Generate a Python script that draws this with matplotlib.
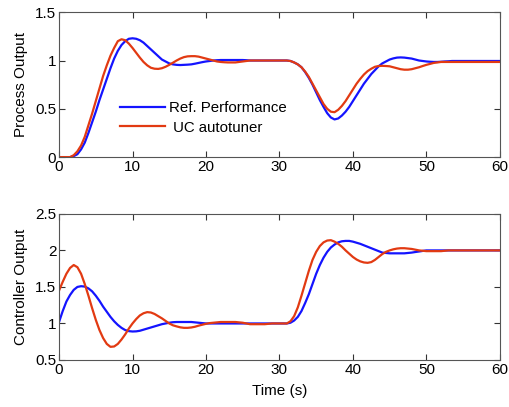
import matplotlib
matplotlib.use("Agg")
import matplotlib.pyplot as plt
import numpy as np
from matplotlib.ticker import FuncFormatter

plt.rcParams["font.family"] = ["Liberation Sans", "DejaVu Sans"]
plt.rcParams["font.size"] = 10

BLUE = "#1414ff"
RED = "#e23a12"

# samples every 0.5 s, 0..60 s
time_s = np.arange(0, 60.5, 0.5)

# process output (top panel)
y_ref = [0, 0, 0, 0, 0.01, 0.03, 0.08, 0.15, 0.25, 0.36,
         0.47, 0.59, 0.70, 0.81, 0.92, 1.02, 1.10, 1.16, 1.20, 1.225,
         1.23, 1.225, 1.21, 1.185, 1.15, 1.115, 1.08, 1.045, 1.01, 0.99,
         0.97, 0.96, 0.955, 0.953, 0.955, 0.957, 0.96, 0.967, 0.975, 0.983,
         0.99, 0.995, 1.0, 1.003, 1.005, 1.005, 1.005, 1.005, 1.005, 1.005,
         1.005, 1.003, 1.0, 1.0, 1.0, 1.0, 1.0, 1.0, 1.0, 1.0,
         1.0, 1.0, 1.0, 0.995, 0.98, 0.96, 0.93, 0.88, 0.82, 0.75,
         0.67, 0.59, 0.52, 0.455, 0.41, 0.39, 0.40, 0.43, 0.47, 0.52,
         0.58, 0.64, 0.70, 0.76, 0.81, 0.86, 0.90, 0.94, 0.97, 0.99,
         1.01, 1.022, 1.03, 1.032, 1.03, 1.025, 1.02, 1.01, 1.0, 0.995,
         0.99, 0.987, 0.985, 0.985, 0.987, 0.99, 0.992, 0.995, 0.995, 0.995,
         0.995, 0.995, 0.995, 0.995, 0.995, 0.995, 0.995, 0.995, 0.995, 0.995,
         0.995]
y_uc = [0, 0, 0, 0, 0.02, 0.06, 0.12, 0.21, 0.33, 0.45,
        0.58, 0.71, 0.84, 0.95, 1.05, 1.13, 1.20, 1.22, 1.21, 1.175,
        1.13, 1.08, 1.03, 0.985, 0.95, 0.925, 0.915, 0.913, 0.92, 0.935,
        0.955, 0.977, 1.0, 1.02, 1.035, 1.043, 1.045, 1.045, 1.04, 1.03,
        1.02, 1.01, 1.0, 0.99, 0.985, 0.982, 0.98, 0.98, 0.98, 0.985,
        0.99, 0.995, 1.0, 1.0, 1.0, 1.0, 1.0, 1.0, 1.0, 1.0,
        1.0, 1.0, 1.0, 0.995, 0.98, 0.96, 0.93, 0.885, 0.83, 0.76,
        0.69, 0.62, 0.55, 0.50, 0.47, 0.465, 0.49, 0.53, 0.58, 0.64,
        0.70, 0.76, 0.81, 0.855, 0.89, 0.915, 0.935, 0.943, 0.945, 0.943,
        0.94, 0.93, 0.92, 0.91, 0.905, 0.905, 0.91, 0.92, 0.93, 0.943,
        0.955, 0.965, 0.975, 0.98, 0.985, 0.985, 0.985, 0.985, 0.985, 0.985,
        0.985, 0.985, 0.985, 0.985, 0.985, 0.985, 0.985, 0.985, 0.985, 0.985,
        0.985]

# controller output (bottom panel)
u_ref = [1.02, 1.17, 1.30, 1.39, 1.46, 1.50, 1.51, 1.505, 1.48, 1.44,
         1.38, 1.31, 1.23, 1.16, 1.09, 1.03, 0.98, 0.94, 0.91, 0.895,
         0.89, 0.892, 0.90, 0.915, 0.93, 0.945, 0.96, 0.975, 0.99, 1.0,
         1.01, 1.017, 1.02, 1.02, 1.02, 1.02, 1.02, 1.015, 1.01, 1.005,
         1.0, 1.0, 1.0, 1.0, 1.0, 1.0, 1.0, 1.0, 1.0, 1.0,
         1.0, 1.0, 1.0, 1.0, 1.0, 1.0, 1.0, 1.0, 1.0, 1.0,
         1.0, 1.0, 1.0, 1.01, 1.04, 1.09, 1.17, 1.28, 1.40, 1.54,
         1.68, 1.80, 1.90, 1.98, 2.04, 2.08, 2.11, 2.125, 2.13, 2.13,
         2.12, 2.105, 2.09, 2.07, 2.05, 2.03, 2.01, 1.99, 1.97, 1.965,
         1.96, 1.96, 1.96, 1.96, 1.96, 1.965, 1.97, 1.978, 1.985, 1.993,
         2.0, 2.0, 2.0, 2.0, 2.0, 2.0, 2.0, 2.0, 2.0, 2.0,
         2.0, 2.0, 2.0, 2.0, 2.0, 2.0, 2.0, 2.0, 2.0, 2.0,
         2.0]
u_uc = [1.45, 1.57, 1.68, 1.76, 1.80, 1.77, 1.68, 1.54, 1.38, 1.21,
        1.05, 0.91, 0.80, 0.72, 0.68, 0.685, 0.72, 0.78, 0.85, 0.93,
        1.0, 1.06, 1.11, 1.14, 1.155, 1.15, 1.13, 1.10, 1.07, 1.035,
        1.0, 0.975, 0.96, 0.947, 0.94, 0.94, 0.945, 0.955, 0.97, 0.983,
        0.995, 1.005, 1.01, 1.015, 1.02, 1.02, 1.02, 1.02, 1.02, 1.015,
        1.01, 1.0, 0.99, 0.99, 0.99, 0.99, 0.99, 0.995, 1.0, 1.0,
        1.0, 1.0, 1.0, 1.03, 1.10, 1.22, 1.38, 1.55, 1.72, 1.87,
        1.98, 2.06, 2.11, 2.135, 2.14, 2.12, 2.09, 2.05, 2.0, 1.955,
        1.91, 1.875, 1.85, 1.835, 1.83, 1.84, 1.87, 1.91, 1.95, 1.98,
        2.0, 2.015, 2.025, 2.03, 2.03, 2.025, 2.02, 2.01, 2.0, 1.995,
        1.99, 1.99, 1.99, 1.99, 1.99, 1.995, 2.0, 2.0, 2.0, 2.0,
        2.0, 2.0, 2.0, 2.0, 2.0, 2.0, 2.0, 2.0, 2.0, 2.0,
        2.0]


def style_axes(ax):
    ax.tick_params(direction="in", top=True, right=True, length=4,
                   width=0.8, colors="#333333", labelcolor="black",
                   labelsize=11, pad=2)
    for sp in ax.spines.values():
        sp.set_color("#555555")
        sp.set_linewidth(0.8)
    ax.set_xlim(0, 60)
    ax.set_xticks(range(0, 61, 10))
    ax.yaxis.set_major_formatter(FuncFormatter(lambda v, p: f"{v:g}"))


fig = plt.figure(figsize=(5.09, 4.07), dpi=100)
ax1 = fig.add_axes([0.116, 0.614, 0.866, 0.356])
ax2 = fig.add_axes([0.116, 0.1155, 0.866, 0.359])

ax1.plot(time_s, y_ref, color=BLUE, lw=1.6, label="Ref. Performance")
ax1.plot(time_s, y_uc, color=RED, lw=1.6, label=" UC autotuner")
ax1.set_ylim(0, 1.5)
ax1.set_yticks([0, 0.5, 1, 1.5])
ax1.set_ylabel("Process Output", fontsize=11, labelpad=5)
style_axes(ax1)
ax1.legend(loc="center left", bbox_to_anchor=(0.138, 0.27), frameon=False,
           fontsize=10.8, handlelength=3.0, handletextpad=0.3,
           labelspacing=0.35, borderpad=0, borderaxespad=0)

ax2.plot(time_s, u_ref, color=BLUE, lw=1.6)
ax2.plot(time_s, u_uc, color=RED, lw=1.6)
ax2.set_ylim(0.5, 2.5)
ax2.set_yticks([0.5, 1, 1.5, 2, 2.5])
ax2.set_ylabel("Controller Output", fontsize=11, labelpad=5)
ax2.set_xlabel("Time (s)", fontsize=11, labelpad=5)
style_axes(ax2)

fig.savefig("out.png", dpi=100)
